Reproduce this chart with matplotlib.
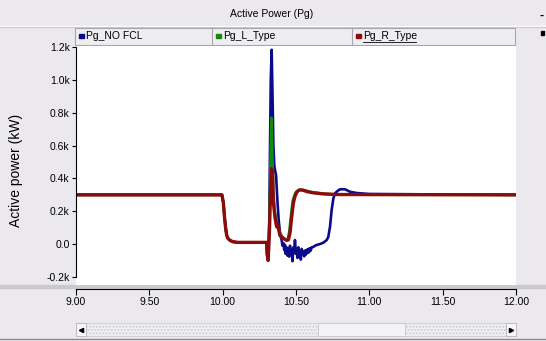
import matplotlib.pyplot as plt
from matplotlib.patches import Rectangle

plt.rcParams['font.family'] = ['Liberation Sans', 'DejaVu Sans']

# --- data (time in s, power in kW) ---
t_pre = [9.0, 9.995, 10.005, 10.012, 10.02, 10.027, 10.035, 10.05, 10.07, 10.1, 10.3]
v_pre = [300, 300, 250, 170, 100, 55, 35, 22, 14, 10, 10]

t_nofcl = [10.303, 10.31, 10.318, 10.323, 10.328, 10.334, 10.34, 10.346, 10.352, 10.357,
           10.364, 10.373, 10.382, 10.391, 10.402, 10.408, 10.414, 10.42, 10.425, 10.43,
           10.436, 10.442, 10.448, 10.453, 10.459, 10.465, 10.47, 10.476, 10.482, 10.488,
           10.493, 10.499, 10.505, 10.51, 10.516, 10.522, 10.527, 10.533, 10.539, 10.545,
           10.55, 10.556, 10.561, 10.567, 10.573, 10.579, 10.584, 10.59, 10.595, 10.6,
           10.607, 10.618, 10.63, 10.641, 10.664, 10.686, 10.709, 10.72, 10.732, 10.743,
           10.755, 10.766, 10.782, 10.8, 10.834, 10.868, 10.914, 11.0, 12.0]
v_nofcl = [-60, -100, 150, 600, 1000, 1185, 900, 600, 480, 450,
           420, 268, 146, 67, 24, -10, 6, -37, -5, -60,
           -20, -70, -30, -77, -10, -60, -35, -105, -20, -40,
           24, -60, -30, -85, -20, -55, -40, -95, -30, -60,
           -45, -75, -40, -65, -35, -55, -30, -50, -25, -40,
           -20, -18, -10, -6, 0, 8, 24, 43, 106, 207,
           279, 309, 323, 334, 334, 319, 311, 305, 300]

t_ltype = [10.303, 10.31, 10.318, 10.326, 10.332, 10.338, 10.345, 10.355, 10.365, 10.375,
           10.39, 10.41, 10.43, 10.445, 10.455, 10.466, 10.478, 10.49, 10.5, 10.515,
           10.53, 10.56, 10.6, 10.7, 10.8, 12.0]
v_ltype = [-60, -100, 100, 500, 770, 600, 330, 200, 150, 110,
           70, 40, 25, 30, 80, 175, 265, 300, 318, 328,
           332, 328, 318, 306, 301, 300]

t_rtype = [10.303, 10.31, 10.318, 10.326, 10.333, 10.34, 10.345, 10.357, 10.368, 10.375,
           10.38, 10.391, 10.414, 10.436, 10.448, 10.459, 10.47, 10.482, 10.493, 10.505,
           10.516, 10.527, 10.55, 10.573, 10.62, 10.68, 10.78, 12.0]
v_rtype = [-60, -100, 50, 300, 460, 440, 260, 160, 105, 120,
           95, 50, 35, 22, 25, 67, 160, 250, 290, 315,
           326, 330, 328, 320, 312, 306, 302, 300]

series_names = ['Pg_NO FCL', 'Pg_L_Type', 'Pg_R_Type']
series_colors = ['#0a0a8a', '#128a12', '#8c0c0c']
series_widths = [1.9, 1.9, 2.4]

x_ticks = [9.0, 9.5, 10.0, 10.5, 11.0, 11.5, 12.0]
x_labels = ['9.00', '9.50', '10.00', '10.50', '11.00', '11.50', '12.00']
y_ticks = [-200, 0, 200, 400, 600, 800, 1000, 1200]
y_labels = ['-0.2k', '0.0', '0.2k', '0.4k', '0.6k', '0.8k', '1.0k', '1.2k']

W, H = 546, 341
gray = '#ebe9ee'


def fx(px):
    return px / W


def fy(py):
    return 1 - py / H


fig = plt.figure(figsize=(W / 100, H / 100), dpi=100, facecolor=gray)

# window chrome drawn in pixel coordinates
bg = fig.add_axes([0, 0, 1, 1], zorder=0)
bg.set_xlim(0, W)
bg.set_ylim(H, 0)
bg.axis('off')

bg.plot([0, W], [25.5, 25.5], color='white', lw=1)
bg.plot([0, W], [26.5, 26.5], color='#c8c6cc', lw=0.8)
bg.text(272, 14, 'Active Power (Pg)', ha='center', va='center', fontsize=7.5)
bg.text(542, 16, '-', ha='center', va='center', fontsize=9, fontweight='bold')
bg.add_patch(Rectangle((541, 31), 3, 4, color='black'))

# legend bar
bg.add_patch(Rectangle((75, 27.5), 440, 17, facecolor='#eeedf2', edgecolor='#a8a6ac', lw=0.8))
cells = [75, 212, 352]
for x0, name, col in zip(cells, series_names, series_colors):
    if x0 > 75:
        bg.plot([x0, x0], [27.5, 44.5], color='#a8a6ac', lw=0.8)
    bg.add_patch(Rectangle((x0 + 4, 33.5), 4.5, 4.5, color=col))
    bg.text(x0 + 11, 36, name, ha='left', va='center', fontsize=7.5)
bg.plot([363, 416], [42, 42], color='black', lw=0.6)

# separator and scroll bar
bg.add_patch(Rectangle((0, 285), W, 3, color='#cbc9cf'))
bg.add_patch(Rectangle((76, 323), 440, 13, facecolor='#f0eff3', edgecolor='#d0ced4',
                       lw=0.6, hatch='.....'))
bg.add_patch(Rectangle((318, 323), 87, 13, facecolor='#f3f2f6', edgecolor='#c8c6cc', lw=0.6))
bg.add_patch(Rectangle((76, 323), 10, 13, facecolor='#f6f5f8', edgecolor='#b8b6bc', lw=0.6))
bg.add_patch(Rectangle((506, 323), 10, 13, facecolor='#f6f5f8', edgecolor='#b8b6bc', lw=0.6))
bg.plot([81], [329.5], marker='<', ms=3, color='black')
bg.plot([511], [329.5], marker='>', ms=3, color='black')
bg.plot([0, W], [338.5, 338.5], color='#8c8a90', lw=1)

# main plot area
ax = fig.add_axes([fx(76), fy(285), fx(516) - fx(76), (285 - 46) / H], zorder=2)
ax.set_facecolor('white')
ax.set_xlim(9, 12)
ax.set_ylim(-250, 1208)

all_t = [t_pre + t_nofcl, t_pre + t_ltype, t_pre + t_rtype]
all_v = [v_pre + v_nofcl, v_pre + v_ltype, v_pre + v_rtype]
for tt, vv, col, lw in zip(all_t, all_v, series_colors, series_widths):
    ax.plot(tt, vv, color=col, lw=lw, solid_joinstyle='round')

for s in ['top', 'right', 'bottom']:
    ax.spines[s].set_visible(False)
ax.spines['left'].set_bounds(-200, 1200)
ax.spines['left'].set_linewidth(0.8)
ax.set_xticks([])
ax.set_yticks(y_ticks)
ax.set_yticklabels(y_labels)
ax.tick_params(axis='y', direction='out', length=3, width=0.8, labelsize=7.5, pad=1.5)

fig.text(fx(16), fy(170), 'Active power (kW)', rotation=90, ha='center', va='center',
         fontsize=10)

# separate time axis under the plot
axx = fig.add_axes([fx(76), fy(289), fx(516) - fx(76), 0.001], zorder=2)
axx.patch.set_visible(False)
axx.set_xlim(9, 12)
for s in ['top', 'right', 'left']:
    axx.spines[s].set_visible(False)
axx.spines['bottom'].set_linewidth(0.8)
axx.set_yticks([])
axx.set_xticks(x_ticks)
axx.set_xticklabels(x_labels)
axx.tick_params(axis='x', direction='out', length=4, width=0.8, labelsize=7.5, pad=2)

fig.savefig('out.png', dpi=100, facecolor=gray)
